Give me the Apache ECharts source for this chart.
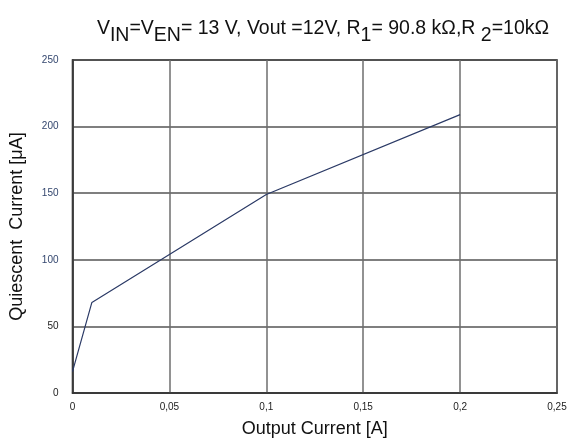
<!DOCTYPE html>
<html>
<head>
<meta charset="utf-8">
<script src="https://cdn.jsdelivr.net/npm/echarts@6/dist/echarts.min.js"></script>
<style>
  html, body { margin: 0; padding: 0; background: #fff; }
  #chart { width: 575px; height: 445px; }
</style>
</head>
<body>
<div id="chart"></div>
<script>
// 曲线数据
var outputCurrent = [0, 0.01, 0.1, 0.2] // X轴 [A]
var quiescentCurrent = [16, 68, 149, 209] // Y轴 [μA]
var xTicks = [0, 0.05, 0.1, 0.15, 0.2, 0.25]
var yTicks = [0, 50, 100, 150, 200, 250]

var points = outputCurrent.map(function (x, i) { return [x, quiescentCurrent[i]] })

var chart = echarts.init(document.getElementById('chart'))
chart.setOption({
  animation: false,
  title: {
    text: '{t|V}{s|IN}{t|=V}{s|EN}{t|= 13 V, Vout =12V, R}{s|1}{t|= 90.8 kΩ,R}{s| 2}{t|=10kΩ}',
    left: 318,
    top: 10,
    textAlign: 'center',
    textStyle: {
      fontWeight: 'normal',
      rich: {
        t: { fontFamily: 'Liberation Sans', fontSize: 19.5, fontWeight: 'normal', color: '#111', verticalAlign: 'bottom', lineHeight: 24 },
        s: { fontFamily: 'Liberation Sans', fontSize: 19.5, fontWeight: 'normal', color: '#111', verticalAlign: 'bottom', lineHeight: 24, padding: [0, 0, -7, 0] }
      }
    }
  },
  grid: {
    left: 72.5,
    right: 18,
    top: 60,
    bottom: 52,
    show: true,
    borderColor: '#111',
    borderWidth: 1.5
  },
  xAxis: {
    type: 'value',
    min: 0,
    max: 0.25,
    interval: 0.05,
    name: 'Output Current [A]',
    nameLocation: 'middle',
    nameGap: 27,
    nameTextStyle: { fontFamily: 'Liberation Sans', fontSize: 18, color: '#111' },
    axisLine: { show: true, lineStyle: { color: '#333', width: 1.5 } },
    axisTick: { show: false },
    axisLabel: {
      fontFamily: 'Liberation Sans',
      fontSize: 10,
      color: '#222',
      margin: 9,
      formatter: function (v) {
        var t = xTicks.find(function (k) { return Math.abs(k - v) < 1e-9 })
        return String(t !== undefined ? t : v).replace('.', ',')
      }
    },
    splitLine: { show: true, lineStyle: { color: '#6e6e6e', width: 1.5 } }
  },
  yAxis: {
    type: 'value',
    min: yTicks[0],
    max: yTicks[yTicks.length - 1],
    interval: 50,
    name: 'Quiescent  Current [μA]',
    nameLocation: 'middle',
    nameGap: 46,
    nameTextStyle: { fontFamily: 'Liberation Sans', fontSize: 18, color: '#111' },
    axisLine: { show: true, lineStyle: { color: '#333', width: 1.5 } },
    axisTick: { show: false },
    axisLabel: {
      fontFamily: 'Liberation Sans',
      fontSize: 10,
      margin: 14,
      color: function (v) { return v >= 100 ? '#33466e' : '#222' }
    },
    splitLine: { show: true, lineStyle: { color: '#555', width: 1.5 } }
  },
  series: [{
    type: 'line',
    data: points,
    symbol: 'none',
    lineStyle: { color: '#2b3a66', width: 1.2 }
  }]
})
</script>
</body>
</html>
